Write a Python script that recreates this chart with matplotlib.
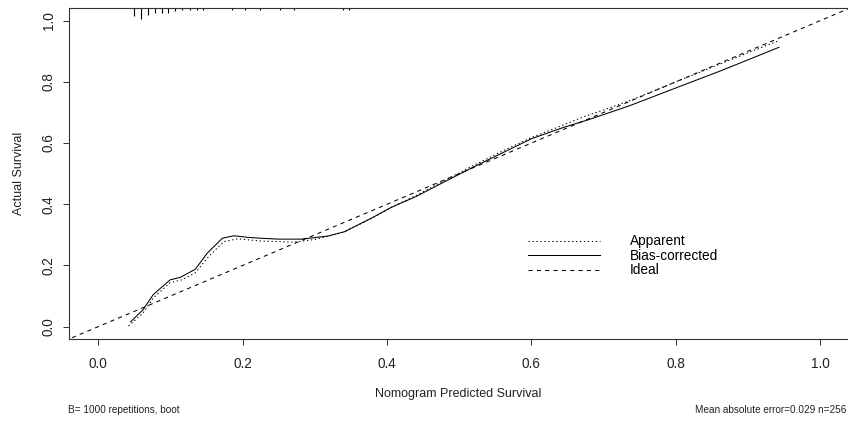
import matplotlib
matplotlib.use("Agg")
import matplotlib.pyplot as plt
import numpy as np

plt.rcParams['font.family'] = ['Liberation Sans', 'DejaVu Sans']

# Apparent calibration curve
app_x = [0.042, 0.062, 0.076, 0.0997, 0.116, 0.1345, 0.153, 0.174, 0.193, 0.225, 0.2715,
         0.30, 0.318, 0.341, 0.355, 0.378, 0.406, 0.44, 0.48, 0.52, 0.56, 0.60, 0.64,
         0.67, 0.70, 0.74, 0.80, 0.86, 0.90, 0.943]
app_y = [0.002, 0.044, 0.093, 0.144, 0.153, 0.176, 0.229, 0.278, 0.287, 0.280, 0.276,
         0.285, 0.295, 0.31, 0.326, 0.353, 0.39, 0.428, 0.478, 0.527, 0.574, 0.618, 0.655,
         0.684, 0.708, 0.742, 0.80, 0.857, 0.895, 0.935]

# Bias-corrected calibration curve
bc_x = [0.045, 0.062, 0.076, 0.086, 0.0997, 0.1136, 0.1345, 0.151, 0.172, 0.188, 0.2065,
        0.225, 0.25, 0.281, 0.318, 0.341, 0.355, 0.378, 0.406, 0.44, 0.476, 0.52, 0.56,
        0.60, 0.643, 0.68, 0.736, 0.80, 0.86, 0.90, 0.943]
bc_y = [0.016, 0.055, 0.104, 0.125, 0.153, 0.161, 0.1875, 0.24, 0.289, 0.297, 0.292,
        0.289, 0.286, 0.286, 0.296, 0.31, 0.327, 0.354, 0.39, 0.425, 0.469, 0.522, 0.568,
        0.614, 0.65, 0.677, 0.722, 0.78, 0.834, 0.872, 0.913]

# Rug of predicted values (positions and relative frequencies)
rug_x = [0.0495, 0.0592, 0.0686, 0.0787, 0.088, 0.0973, 0.1066, 0.116, 0.1266, 0.1368,
         0.145, 0.1856, 0.204, 0.224, 0.252, 0.2715, 0.339, 0.348]
rug_n = [24, 33, 21, 15, 15, 13, 8, 6, 6, 6, 6, 4, 4, 4, 4, 4, 4, 4]

x_ticks = [0.0, 0.2, 0.4, 0.6, 0.8, 1.0]
y_ticks = [0.0, 0.2, 0.4, 0.6, 0.8, 1.0]
tick_labels = ["0.0", "0.2", "0.4", "0.6", "0.8", "1.0"]

fig = plt.figure(figsize=(8.48, 4.21), dpi=100)
ax_w = 1.08 * 722
ax_h = 1.08 * 306
ax = fig.add_axes([69.3 / 848, 1 - 338.9 / 421, ax_w / 848, ax_h / 421])
ax.set_xlim(-0.04, 1.04)
ax.set_ylim(-0.04, 1.04)

lw = 0.75
ax.plot(app_x, app_y, color='black', lw=lw, linestyle=(0, (1.3, 2.5)), label='Apparent')
ax.plot(bc_x, bc_y, color='black', lw=lw, linestyle='-', label='Bias-corrected')
ax.plot([-0.1, 1.1], [-0.1, 1.1], color='black', lw=lw, linestyle=(0, (4, 4)), label='Ideal')

# rug along top
maxlen = 0.036
rn = np.array(rug_n, dtype=float)
top = 1.04
ax.vlines(rug_x, top - maxlen * rn / rn.max(), top, color='black', lw=0.8, clip_on=False)

ax.set_xticks(x_ticks)
ax.set_xticklabels(tick_labels)
ax.set_yticks(y_ticks)
ax.set_yticklabels(tick_labels, rotation=90, va='center')
ax.tick_params(axis='both', direction='out', length=4.3, width=0.7, labelsize=9.8,
               color='#333333', labelcolor='#222222')
ax.tick_params(axis='x', pad=8.5)
ax.tick_params(axis='y', pad=5.5)
for s in ax.spines.values():
    s.set_linewidth(0.8)
    s.set_color('#333333')

ax.set_xlabel('Nomogram Predicted Survival', fontsize=9, color='#222222', va='center')
ax.set_ylabel('Actual Survival', fontsize=9, color='#222222', va='center')
ax.xaxis.set_label_coords((458 - 69.3) / ax_w, (338.9 - 394) / ax_h)
ax.yaxis.set_label_coords((19 - 69.3) / ax_w, 0.5)

leg = ax.legend(loc='upper left', bbox_to_anchor=(528 / 848, 1 - 234.5 / 421),
                bbox_transform=fig.transFigure, frameon=False, fontsize=9.8,
                handlelength=5.3, handletextpad=2.2, labelspacing=0.03, borderpad=0,
                borderaxespad=0)

fig.text(68 / 848, 1 - 410 / 421, 'B= 1000 repetitions, boot', fontsize=7.2,
         ha='left', va='center', color='#222222')
fig.text(846 / 848, 1 - 410 / 421, 'Mean absolute error=0.029 n=256', fontsize=7.2,
         ha='right', va='center', color='#222222')

fig.savefig('out.png', dpi=100)
